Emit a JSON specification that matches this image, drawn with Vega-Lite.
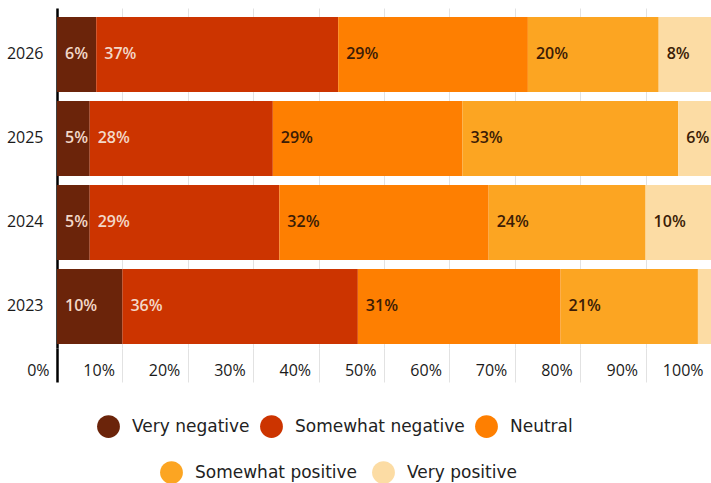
{
  "$schema": "https://vega.github.io/schema/vega-lite/v6.json",
  "autosize": {"type": "none"},
  "width": 654,
  "height": 340,
  "padding": {"left": 57, "top": 8, "right": 0, "bottom": 135},
  "background": "white",
  "config": {
    "view": {"stroke": null},
    "font": "Open Sans"
  },
  "data": {
    "values": [
      {"year": "2026", "sentiment": "Very negative", "order": 1, "pct": 6},
      {"year": "2026", "sentiment": "Somewhat negative", "order": 2, "pct": 37},
      {"year": "2026", "sentiment": "Neutral", "order": 3, "pct": 29},
      {"year": "2026", "sentiment": "Somewhat positive", "order": 4, "pct": 20},
      {"year": "2026", "sentiment": "Very positive", "order": 5, "pct": 8},
      {"year": "2025", "sentiment": "Very negative", "order": 1, "pct": 5},
      {"year": "2025", "sentiment": "Somewhat negative", "order": 2, "pct": 28},
      {"year": "2025", "sentiment": "Neutral", "order": 3, "pct": 29},
      {"year": "2025", "sentiment": "Somewhat positive", "order": 4, "pct": 33},
      {"year": "2025", "sentiment": "Very positive", "order": 5, "pct": 6},
      {"year": "2024", "sentiment": "Very negative", "order": 1, "pct": 5},
      {"year": "2024", "sentiment": "Somewhat negative", "order": 2, "pct": 29},
      {"year": "2024", "sentiment": "Neutral", "order": 3, "pct": 32},
      {"year": "2024", "sentiment": "Somewhat positive", "order": 4, "pct": 24},
      {"year": "2024", "sentiment": "Very positive", "order": 5, "pct": 10},
      {"year": "2023", "sentiment": "Very negative", "order": 1, "pct": 10},
      {"year": "2023", "sentiment": "Somewhat negative", "order": 2, "pct": 36},
      {"year": "2023", "sentiment": "Neutral", "order": 3, "pct": 31},
      {"year": "2023", "sentiment": "Somewhat positive", "order": 4, "pct": 21},
      {"year": "2023", "sentiment": "Very positive", "order": 5, "pct": 2}
    ]
  },
  "transform": [
    {"stack": "pct", "groupby": ["year"], "sort": [{"field": "order"}], "as": ["x0", "x1"]},
    {"calculate": "datum.pct + '%'", "as": "label"}
  ],
  "encoding": {
    "y": {
      "field": "year",
      "type": "nominal",
      "sort": ["2026", "2025", "2024", "2023"],
      "scale": {"paddingInner": 0.107, "paddingOuter": 0.077, "align": 0.69},
      "axis": {
        "title": null,
        "ticks": false,
        "grid": false,
        "domainColor": "#000000",
        "domainWidth": 2.5,
        "labelFont": "Open Sans",
        "labelFontSize": 16,
        "labelColor": "#1a1a1a",
        "labelPadding": 14
      }
    },
    "x": {
      "field": "x0",
      "type": "quantitative",
      "scale": {"domain": [0, 100], "nice": false, "zero": true},
      "axis": {
        "title": null,
        "values": [0, 10, 20, 30, 40, 50, 60, 70, 80, 90, 100],
        "labelExpr": "datum.value + '%'",
        "domain": false,
        "grid": true,
        "gridColor": "#e2e2e2",
        "gridWidth": 1,
        "gridOpacity": {"condition": {"test": "datum.value >= 100", "value": 0}, "value": 1},
        "ticks": true,
        "tickSize": 34,
        "tickColor": {"condition": {"test": "datum.value === 0", "value": "#000000"}, "value": "#e2e2e2"},
        "tickWidth": {"condition": {"test": "datum.value === 0", "value": 2.5}, "value": 1},
        "tickOpacity": {"condition": {"test": "datum.value >= 100", "value": 0}, "value": 1},
        "labelAlign": "right",
        "labelOffset": -8,
        "labelPadding": -20,
        "labelFlush": false,
        "labelOverlap": false,
        "labelBound": false,
        "labelFont": "Open Sans",
        "labelFontSize": 16,
        "labelColor": "#1a1a1a"
      }
    }
  },
  "layer": [
    {
      "transform": [{"filter": "datum.order <= 3"}],
      "mark": {"type": "bar", "clip": true},
      "encoding": {
        "x2": {"field": "x1"},
        "color": {
          "field": "sentiment",
          "type": "nominal",
          "scale": {
            "domain": ["Very negative", "Somewhat negative", "Neutral"],
            "range": ["#6b240a", "#cc3400", "#fe7f01"]
          },
          "legend": {
            "orient": "none",
            "legendX": 40,
            "legendY": 407,
            "direction": "horizontal",
            "title": null,
            "symbolType": "circle",
            "symbolSize": 520,
            "symbolStrokeWidth": 0,
            "symbolOpacity": 1,
            "labelFont": "DejaVu Sans",
            "labelFontSize": 17,
            "labelColor": "#222222",
            "labelLimit": 400,
            "labelOffset": 12,
            "columnPadding": 10,
            "padding": 0
          }
        }
      }
    },
    {
      "transform": [{"filter": "datum.order >= 4"}],
      "mark": {"type": "bar", "clip": true},
      "encoding": {
        "x2": {"field": "x1"},
        "color": {
          "field": "sentiment",
          "type": "nominal",
          "scale": {
            "domain": ["Somewhat positive", "Very positive"],
            "range": ["#fca522", "#fcdca4"]
          },
          "legend": {
            "orient": "none",
            "legendX": 103,
            "legendY": 453,
            "direction": "horizontal",
            "title": null,
            "symbolType": "circle",
            "symbolSize": 520,
            "symbolStrokeWidth": 0,
            "symbolOpacity": 1,
            "labelFont": "DejaVu Sans",
            "labelFontSize": 17,
            "labelColor": "#222222",
            "labelLimit": 400,
            "labelOffset": 12,
            "columnPadding": 14,
            "padding": 0
          }
        }
      }
    },
    {
      "transform": [{"filter": "datum.pct >= 3"}],
      "mark": {"type": "text", "align": "left", "baseline": "middle", "dx": 8, "font": "Open Sans", "fontSize": 16, "fontWeight": 600, "clip": true},
      "encoding": {
        "text": {"field": "label"},
        "color": {"condition": {"test": "datum.order <= 2", "value": "#f3d8c8"}, "value": "#3b1c06"}
      }
    }
  ],
  "resolve": {"scale": {"color": "independent"}}
}
